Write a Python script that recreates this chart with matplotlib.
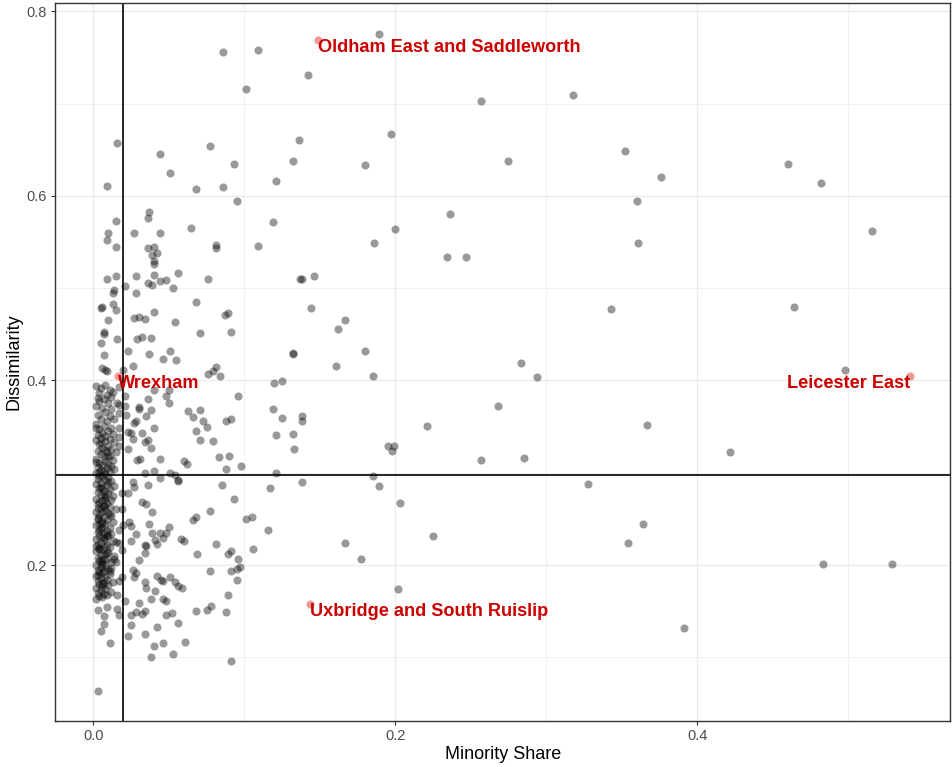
import matplotlib
matplotlib.use("Agg")
import matplotlib.pyplot as plt
from matplotlib.ticker import MultipleLocator

plt.rcParams['font.family'] = ['Liberation Sans', 'DejaVu Sans']

# constituencies spread out to the right / top
wide_x = [0.086, 0.109, 0.101, 0.142, 0.189, 0.257, 0.318, 0.136, 0.197, 0.132,
          0.275, 0.352, 0.376, 0.360, 0.361, 0.460, 0.482, 0.516, 0.180, 0.200,
          0.186, 0.236, 0.234, 0.247, 0.146, 0.137, 0.144, 0.162, 0.167, 0.343,
          0.464, 0.132, 0.161, 0.180, 0.185, 0.283, 0.294, 0.498, 0.367, 0.422,
          0.364, 0.354, 0.483, 0.529, 0.391, 0.328, 0.268, 0.138, 0.138, 0.221,
          0.195, 0.199, 0.198, 0.257, 0.285, 0.138, 0.185, 0.189, 0.203, 0.225,
          0.167, 0.177, 0.202]
wide_y = [0.756, 0.758, 0.716, 0.731, 0.775, 0.703, 0.709, 0.661, 0.667, 0.638,
          0.638, 0.649, 0.621, 0.595, 0.549, 0.635, 0.614, 0.562, 0.633, 0.564,
          0.549, 0.580, 0.534, 0.534, 0.513, 0.510, 0.479, 0.456, 0.466, 0.477,
          0.480, 0.430, 0.416, 0.432, 0.405, 0.419, 0.404, 0.411, 0.352, 0.322,
          0.245, 0.224, 0.201, 0.201, 0.132, 0.288, 0.372, 0.362, 0.356, 0.351,
          0.329, 0.329, 0.324, 0.314, 0.316, 0.290, 0.296, 0.286, 0.267, 0.231,
          0.224, 0.207, 0.174]

# constituencies between 2% and ~13% minority share
mid_x = [0.016, 0.077, 0.044, 0.093, 0.051, 0.121, 0.009, 0.068, 0.086, 0.095,
         0.037, 0.036, 0.015, 0.119, 0.010, 0.009, 0.027, 0.044, 0.065, 0.015,
         0.036, 0.040, 0.081, 0.081, 0.109, 0.039, 0.042, 0.040, 0.040, 0.009,
         0.015, 0.028, 0.040, 0.056, 0.076, 0.036, 0.039, 0.044, 0.048, 0.053,
         0.021, 0.014, 0.013, 0.138, 0.028, 0.068, 0.013, 0.005, 0.006, 0.015,
         0.040, 0.087, 0.089, 0.010, 0.027, 0.030, 0.034, 0.054, 0.091, 0.071,
         0.007, 0.007, 0.029, 0.032, 0.038, 0.016, 0.005, 0.023, 0.051, 0.007,
         0.037, 0.046, 0.055, 0.132, 0.026, 0.006, 0.008, 0.009, 0.020, 0.076,
         0.079, 0.081, 0.084, 0.017, 0.040, 0.050, 0.120, 0.125, 0.021, 0.048,
         0.096, 0.021, 0.036, 0.050, 0.030, 0.030, 0.038, 0.063, 0.071, 0.119,
         0.017, 0.035, 0.066, 0.028, 0.027, 0.073, 0.088, 0.091, 0.125, 0.022,
         0.017, 0.023, 0.025, 0.032, 0.040, 0.068, 0.075, 0.071, 0.079, 0.121,
         0.132, 0.133, 0.017, 0.026, 0.034, 0.036, 0.017, 0.023, 0.038, 0.029,
         0.031, 0.044, 0.060, 0.062, 0.083, 0.090, 0.088, 0.098, 0.121, 0.034,
         0.040, 0.044, 0.051, 0.054, 0.056, 0.026, 0.027, 0.085, 0.117, 0.036,
         0.056, 0.023, 0.019, 0.093, 0.032, 0.035, 0.019, 0.039, 0.077, 0.066,
         0.068, 0.101, 0.105, 0.024, 0.025, 0.037, 0.050, 0.116, 0.020, 0.017,
         0.028, 0.039, 0.044, 0.048, 0.041, 0.046, 0.058, 0.060, 0.025, 0.042,
         0.015, 0.017, 0.081, 0.034, 0.035, 0.106, 0.019, 0.034, 0.069, 0.089,
         0.091, 0.096, 0.030, 0.014, 0.015, 0.091, 0.095, 0.097, 0.095, 0.077,
         0.026, 0.027, 0.028, 0.042, 0.045, 0.046, 0.051, 0.054, 0.056, 0.059,
         0.034, 0.035, 0.041, 0.019, 0.017, 0.038, 0.046, 0.048, 0.021, 0.030,
         0.089, 0.016, 0.009, 0.003, 0.016, 0.017, 0.007, 0.028, 0.032, 0.034,
         0.025, 0.048, 0.052, 0.056, 0.068, 0.075, 0.078, 0.088, 0.007, 0.025,
         0.042, 0.005, 0.023, 0.034, 0.011, 0.046, 0.040, 0.061, 0.053, 0.038,
         0.091, 0.003, 0.017, 0.016]
mid_y = [0.657, 0.654, 0.645, 0.635, 0.625, 0.616, 0.611, 0.608, 0.610, 0.594,
         0.583, 0.576, 0.573, 0.572, 0.560, 0.552, 0.560, 0.560, 0.565, 0.545,
         0.544, 0.545, 0.547, 0.544, 0.546, 0.536, 0.538, 0.530, 0.526, 0.510,
         0.513, 0.513, 0.514, 0.516, 0.510, 0.506, 0.504, 0.508, 0.509, 0.500,
         0.502, 0.498, 0.495, 0.510, 0.495, 0.485, 0.483, 0.479, 0.480, 0.476,
         0.474, 0.471, 0.473, 0.466, 0.468, 0.469, 0.467, 0.463, 0.453, 0.451,
         0.452, 0.450, 0.445, 0.447, 0.446, 0.445, 0.441, 0.432, 0.432, 0.428,
         0.429, 0.423, 0.422, 0.429, 0.416, 0.414, 0.411, 0.410, 0.411, 0.407,
         0.410, 0.415, 0.405, 0.393, 0.390, 0.390, 0.397, 0.399, 0.383, 0.383,
         0.383, 0.372, 0.380, 0.376, 0.371, 0.369, 0.368, 0.367, 0.368, 0.369,
         0.365, 0.362, 0.360, 0.356, 0.354, 0.356, 0.356, 0.358, 0.359, 0.363,
         0.349, 0.344, 0.343, 0.343, 0.349, 0.345, 0.350, 0.336, 0.334, 0.341,
         0.342, 0.326, 0.339, 0.337, 0.333, 0.336, 0.329, 0.326, 0.327, 0.314,
         0.315, 0.315, 0.313, 0.310, 0.317, 0.318, 0.304, 0.307, 0.300, 0.300,
         0.302, 0.294, 0.300, 0.298, 0.292, 0.290, 0.285, 0.287, 0.283, 0.287,
         0.291, 0.278, 0.278, 0.272, 0.268, 0.266, 0.261, 0.257, 0.259, 0.249,
         0.252, 0.250, 0.252, 0.247, 0.242, 0.244, 0.241, 0.238, 0.243, 0.238,
         0.234, 0.235, 0.235, 0.235, 0.227, 0.229, 0.228, 0.226, 0.226, 0.223,
         0.225, 0.224, 0.223, 0.222, 0.221, 0.217, 0.216, 0.213, 0.212, 0.212,
         0.215, 0.206, 0.205, 0.206, 0.203, 0.193, 0.196, 0.198, 0.184, 0.193,
         0.195, 0.187, 0.191, 0.188, 0.184, 0.183, 0.187, 0.182, 0.177, 0.175,
         0.182, 0.175, 0.172, 0.187, 0.183, 0.163, 0.163, 0.161, 0.161, 0.159,
         0.167, 0.167, 0.154, 0.151, 0.152, 0.146, 0.145, 0.149, 0.147, 0.150,
         0.146, 0.146, 0.148, 0.137, 0.150, 0.151, 0.156, 0.149, 0.136, 0.135,
         0.133, 0.128, 0.123, 0.125, 0.116, 0.116, 0.112, 0.117, 0.104, 0.100,
         0.096, 0.063, 0.373, 0.376]

# dense column of near-zero minority share
core_x = [0.002, 0.005, 0.008, 0.011, 0.004, 0.009, 0.013, 0.003, 0.007, 0.012,
          0.004, 0.010, 0.002, 0.006, 0.012, 0.008, 0.003, 0.011, 0.005, 0.009,
          0.014, 0.002, 0.007, 0.012, 0.004, 0.010, 0.006, 0.013, 0.003, 0.008,
          0.005, 0.011, 0.002, 0.008, 0.014, 0.004, 0.010, 0.006, 0.012, 0.003,
          0.009, 0.015, 0.005, 0.011, 0.007, 0.002, 0.013, 0.008, 0.004, 0.010,
          0.006, 0.012, 0.003, 0.009, 0.014, 0.005, 0.007, 0.011, 0.002, 0.008,
          0.004, 0.006, 0.010, 0.003, 0.008, 0.012, 0.005, 0.002, 0.009, 0.014,
          0.006, 0.004, 0.011, 0.007, 0.003, 0.010, 0.005, 0.013, 0.008, 0.002,
          0.006, 0.012, 0.004, 0.009, 0.003, 0.007, 0.011, 0.005, 0.015, 0.008,
          0.002, 0.006, 0.010, 0.004, 0.012, 0.007, 0.003, 0.009, 0.005, 0.013,
          0.004, 0.008, 0.002, 0.006, 0.011, 0.005, 0.009, 0.003, 0.007, 0.012,
          0.004, 0.010, 0.006, 0.002, 0.008, 0.013, 0.005, 0.003, 0.009, 0.007,
          0.011, 0.004, 0.006, 0.002, 0.010, 0.008, 0.005, 0.014, 0.003, 0.007,
          0.009, 0.004, 0.012, 0.006, 0.002, 0.008, 0.005, 0.010, 0.003, 0.007,
          0.004, 0.006, 0.011, 0.002, 0.008, 0.005, 0.009, 0.003, 0.013, 0.007,
          0.004, 0.010, 0.006, 0.002, 0.008, 0.005, 0.012, 0.003, 0.007, 0.009,
          0.004, 0.006, 0.002, 0.010, 0.005, 0.008, 0.003, 0.011, 0.006, 0.004,
          0.007, 0.002, 0.009, 0.005, 0.012, 0.003, 0.006, 0.008, 0.004, 0.010,
          0.005, 0.002, 0.007, 0.003, 0.009, 0.004, 0.006, 0.011, 0.002, 0.008]
core_y = [0.394, 0.392, 0.395, 0.390, 0.386, 0.384, 0.388, 0.381, 0.380, 0.382,
          0.378, 0.376, 0.372, 0.370, 0.369, 0.366, 0.363, 0.361, 0.358, 0.356,
          0.358, 0.353, 0.351, 0.349, 0.347, 0.345, 0.343, 0.342, 0.341, 0.340,
          0.338, 0.337, 0.335, 0.334, 0.333, 0.331, 0.329, 0.327, 0.326, 0.324,
          0.323, 0.322, 0.320, 0.318, 0.317, 0.315, 0.314, 0.313, 0.311, 0.310,
          0.308, 0.307, 0.306, 0.305, 0.304, 0.303, 0.302, 0.301, 0.300, 0.299,
          0.297, 0.296, 0.295, 0.293, 0.292, 0.291, 0.289, 0.288, 0.287, 0.286,
          0.284, 0.283, 0.282, 0.280, 0.279, 0.278, 0.276, 0.275, 0.274, 0.272,
          0.271, 0.270, 0.268, 0.267, 0.266, 0.264, 0.263, 0.262, 0.261, 0.260,
          0.258, 0.257, 0.256, 0.254, 0.253, 0.252, 0.250, 0.249, 0.248, 0.247,
          0.245, 0.244, 0.243, 0.241, 0.240, 0.239, 0.237, 0.236, 0.235, 0.234,
          0.232, 0.231, 0.230, 0.228, 0.227, 0.226, 0.224, 0.223, 0.222, 0.220,
          0.219, 0.218, 0.216, 0.215, 0.214, 0.212, 0.211, 0.210, 0.208, 0.207,
          0.206, 0.204, 0.203, 0.202, 0.200, 0.199, 0.198, 0.196, 0.195, 0.194,
          0.192, 0.191, 0.190, 0.188, 0.187, 0.186, 0.184, 0.183, 0.182, 0.180,
          0.179, 0.178, 0.177, 0.175, 0.174, 0.173, 0.171, 0.170, 0.169, 0.168,
          0.166, 0.165, 0.163, 0.290, 0.285, 0.270, 0.262, 0.255, 0.246, 0.238,
          0.229, 0.221, 0.213, 0.205, 0.197, 0.189, 0.181, 0.276, 0.301, 0.318,
          0.332, 0.348, 0.264, 0.251, 0.233, 0.217, 0.201, 0.193, 0.312, 0.325]

# highlighted constituencies
label_names = ["Oldham East and Saddleworth", "Wrexham", "Leicester East",
               "Uxbridge and South Ruislip"]
label_x = [0.149, 0.0166, 0.541, 0.1437]
label_y = [0.769, 0.405, 0.405, 0.158]
label_align = ["left", "left", "right", "left"]

share_cut = 0.02
dissim_cut = 0.298

fig = plt.figure(figsize=(9.52, 7.67), dpi=100)
ax = fig.add_axes([0.058, 0.060, 0.940, 0.936])

pts_x = wide_x + mid_x + core_x
pts_y = wide_y + mid_y + core_y
ax.scatter(pts_x, pts_y, s=34, color='black', alpha=0.4, linewidths=0, zorder=3)
ax.scatter(label_x, label_y, s=34, color='#dd0000', alpha=0.4, linewidths=0, zorder=3)

for name, lx, ly, ha in zip(label_names, label_x, label_y, label_align):
    ax.annotate(name, (lx, ly), xytext=(0, -8), textcoords='offset pixels',
                ha=ha, va='center', color='#cc0000', fontsize=13.1,
                fontweight='bold', zorder=4)

ax.axvline(share_cut, color='black', lw=1.2, zorder=2)
ax.axhline(dissim_cut, color='black', lw=1.2, zorder=2)

ax.set_xlim(-0.0252, 0.5675)
ax.set_ylim(0.031, 0.809)
ax.xaxis.set_major_locator(MultipleLocator(0.2))
ax.xaxis.set_minor_locator(MultipleLocator(0.1))
ax.yaxis.set_major_locator(MultipleLocator(0.2))
ax.yaxis.set_minor_locator(MultipleLocator(0.1))
ax.xaxis.set_major_formatter(lambda v, p: f"{v:.1f}")
ax.yaxis.set_major_formatter(lambda v, p: f"{v:.1f}")

ax.grid(which='major', color='#ebebeb', lw=1.0, zorder=0)
ax.grid(which='minor', color='#ebebeb', lw=0.5, zorder=0)
ax.set_axisbelow(True)
ax.tick_params(which='major', length=3, width=0.8, color='#333333',
               labelcolor='#4d4d4d', labelsize=10.5, pad=3)
ax.tick_params(which='minor', length=0)
for sp in ax.spines.values():
    sp.set_color('#333333')
    sp.set_linewidth(1.0)

ax.set_xlabel('Minority Share', fontsize=13, labelpad=2)
ax.set_ylabel('Dissimilarity', fontsize=13, labelpad=3)

fig.savefig('out.png', dpi=100)
